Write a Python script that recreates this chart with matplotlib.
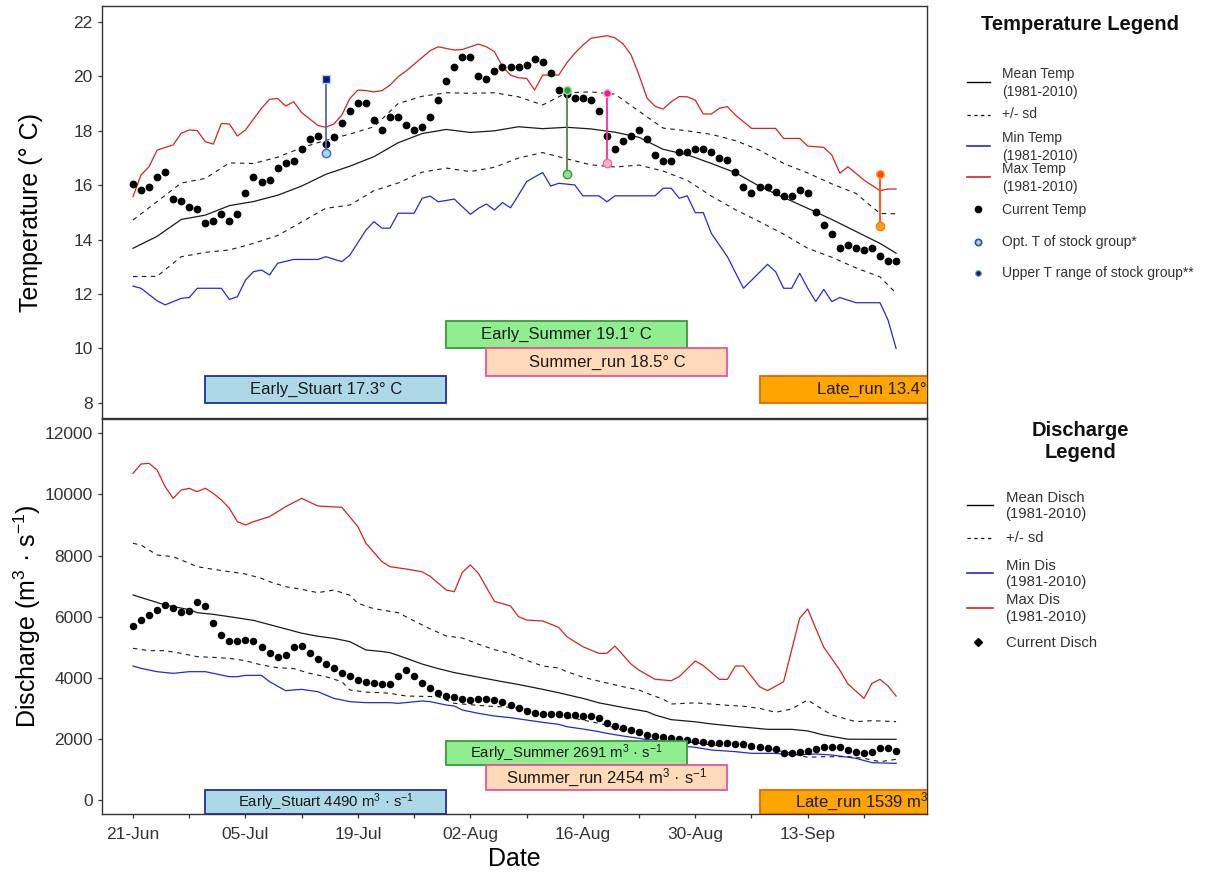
import numpy as np
import pandas as pd
import matplotlib
matplotlib.use("Agg")
import matplotlib.pyplot as plt
from matplotlib.lines import Line2D
from matplotlib.patches import Rectangle

plt.rcParams['font.family'] = ['Liberation Sans', 'DejaVu Sans']
plt.rcParams['mathtext.fontset'] = 'custom'
plt.rcParams['mathtext.rm'] = 'Liberation Sans'
plt.rcParams['mathtext.it'] = 'Liberation Sans:italic'

start = pd.Timestamp('2021-06-21')

# current year, one value per day from 21-Jun
cur_temp = [16.03, 15.82, 15.92, 16.31, 16.50, 15.50, 15.41, 15.21, 15.11, 14.62,
            14.70, 14.94, 14.70, 14.93, 15.73, 16.31, 16.11, 16.20, 16.63, 16.82,
            16.90, 17.32, 17.71, 17.81, 17.53, 17.78, 18.30, 18.72, 19.02, 19.02,
            18.40, 18.03, 18.51, 18.51, 18.21, 18.03, 18.13, 18.51, 19.12, 19.82,
            20.33, 20.72, 20.72, 20.03, 19.92, 20.21, 20.33, 20.33, 20.33, 20.43,
            20.63, 20.53, 20.11, 19.51, 19.35, 19.22, 19.21, 19.12, 18.72, 17.81,
            17.32, 17.63, 17.81, 18.03, 17.70, 17.12, 16.90, 16.90, 17.21, 17.21,
            17.32, 17.32, 17.21, 17.01, 16.92, 16.50, 15.93, 15.73, 15.93, 15.93,
            15.74, 15.61, 15.61, 15.84, 15.73, 15.01, 14.52, 14.21, 13.70, 13.81,
            13.70, 13.60, 13.70, 13.40, 13.20, 13.20]
cur_disch = [5706, 5902, 6055, 6219, 6382, 6295, 6153, 6186, 6470, 6350,
             5782, 5400, 5193, 5193, 5237, 5193, 4997, 4822, 4691, 4746,
             5019, 5040, 4822, 4626, 4440, 4331, 4167, 4059, 3928, 3851,
             3818, 3810, 3810, 4050, 4240, 4050, 3818, 3655, 3513, 3404,
             3355, 3317, 3273, 3295, 3295, 3273, 3219, 3109, 3000, 2913,
             2837, 2815, 2815, 2815, 2782, 2782, 2760, 2760, 2695, 2531,
             2422, 2346, 2291, 2236, 2140, 2095, 2051, 2018, 1986, 1964,
             1920, 1909, 1876, 1855, 1855, 1833, 1833, 1767, 1724, 1691,
             1658, 1549, 1549, 1571, 1615, 1658, 1724, 1746, 1724, 1637,
             1571, 1549, 1571, 1691, 1691, 1604]

# temperature climatology 1981-2010 (days after 21-Jun)
t_grid = list(range(0, 96, 3)) + [95]
t_mean = [13.68, 14.12, 14.74, 14.90, 15.25, 15.40, 15.63, 15.97, 16.40, 16.70, 17.05,
          17.56, 17.90, 18.05, 17.94, 18.00, 18.15, 18.08, 18.13, 18.07, 17.95, 17.76,
          17.32, 17.12, 16.80, 16.46, 15.96, 15.55, 15.15, 14.74, 14.30, 13.86, 13.50]
t_sd_hi = [14.72, 15.40, 16.08, 16.25, 16.82, 16.80, 17.03, 17.38, 17.65, 17.88, 18.15,
           19.00, 19.27, 19.40, 19.38, 19.40, 19.25, 18.95, 19.40, 19.43, 19.35, 18.72,
           18.10, 18.00, 17.87, 17.64, 17.29, 16.80, 16.45, 16.05, 15.70, 14.96, 14.95]
t_sd_lo = [12.64, 12.65, 13.37, 13.53, 13.62, 13.86, 14.15, 14.65, 15.15, 15.27, 15.80,
           16.08, 16.48, 16.63, 16.50, 16.66, 17.00, 17.20, 16.97, 16.75, 16.67, 16.74,
           16.52, 16.18, 15.60, 15.10, 14.66, 14.20, 13.68, 13.35, 12.96, 12.63, 12.03]
tmin_days = [0, 1, 3, 4, 6, 7, 8, 11, 12, 13, 14, 15, 16, 17, 18, 20, 23, 24, 26, 27,
             29, 30, 31, 32, 33, 35, 36, 37, 38, 40, 41, 42, 43, 44, 45, 46, 47, 48, 49, 51,
             52, 53, 55, 56, 58, 59, 60, 65, 66, 67, 68, 69, 70, 71, 72, 74, 76, 79, 80, 81,
             82, 83, 84, 85, 86, 87, 88, 90, 93, 94, 95]
tmin = [12.29, 12.21, 11.75, 11.60, 11.84, 11.87, 12.21, 12.21, 11.80, 11.90,
        12.51, 12.82, 12.88, 12.70, 13.13, 13.27, 13.27, 13.37, 13.19, 13.43,
        14.35, 14.66, 14.42, 14.42, 14.97, 14.97, 15.52, 15.60, 15.39, 15.49,
        15.21, 14.93, 15.15, 15.31, 15.09, 15.36, 15.17, 15.64, 16.13, 16.47,
        15.97, 16.07, 16.01, 15.61, 15.61, 15.39, 15.61, 15.61, 15.89, 15.89,
        15.52, 15.61, 14.99, 14.99, 14.23, 13.37, 12.21, 13.09, 12.82, 12.21,
        12.21, 12.76, 12.21, 11.72, 12.17, 11.72, 11.87, 11.68, 11.68, 11.04, 10.00]
tmax_days = [0, 1, 2, 3, 4, 5, 6, 7, 8, 9, 10, 11, 12, 13, 14, 16, 17, 18, 19, 20, 21,
             23, 24, 25, 26, 27, 28, 29, 30, 31, 32, 33, 34, 35, 36, 37, 38, 39, 40, 41,
             43, 44, 45, 46, 47, 48, 49, 50, 51, 53, 54, 55, 56, 57, 59, 60, 61, 62, 63, 64,
             65, 66, 67, 68, 69, 70, 71, 72, 73, 74, 75, 77, 80, 81, 83, 84, 86, 87, 88, 89,
             90, 91, 93, 94, 95]
tmax = [15.58, 16.38, 16.68, 17.29, 17.39, 17.48, 17.91, 18.03, 18.01, 17.60, 17.51,
        18.27, 18.25, 17.81, 18.03, 18.83, 19.16, 19.19, 18.91, 19.07, 18.67,
        18.20, 18.13, 18.25, 18.58, 19.19, 19.50, 19.48, 19.43, 19.48, 19.68,
        19.99, 20.20, 20.45, 20.70, 20.95, 21.09, 21.03, 20.97, 20.99,
        21.19, 21.09, 20.91, 20.36, 20.05, 19.95, 19.93, 19.50, 20.05,
        20.05, 20.50, 20.85, 21.15, 21.40, 21.50, 21.42, 21.20, 20.80, 20.05, 19.20,
        18.90, 18.80, 19.07, 19.26, 19.25, 19.13, 18.62, 18.62, 18.83, 18.89, 18.58,
        18.09, 18.09, 17.72, 17.72, 17.44, 17.39, 17.11, 16.44, 16.68,
        16.44, 16.19, 15.80, 15.86, 15.86]

# discharge climatology 1981-2010
q_mean_days = [0, 2, 4, 7, 8, 10, 12, 15, 17, 19, 21, 23, 25, 27, 29, 31, 32, 34, 36, 38,
               40, 43, 46, 48, 51, 53, 56, 58, 61, 64, 65, 67, 70, 72, 75, 79, 82, 84, 86, 89, 95]
q_mean = [6710, 6546, 6382, 6230, 6131, 6077, 6000, 5880, 5740, 5600,
          5460, 5360, 5290, 5182, 4910, 4860, 4822, 4640, 4450, 4300,
          4170, 4020, 3873, 3780, 3622, 3510, 3327, 3180, 3030, 2891,
          2782, 2630, 2560, 2490, 2410, 2313, 2313, 2260, 2127, 1990, 1986]
q_hi_days = [0, 1, 3, 5, 7, 8, 10, 12, 14, 16, 17, 19, 21, 23, 25, 27, 28, 30, 31, 33,
             35, 37, 39, 41, 43, 45, 47, 49, 51, 53, 54, 56, 58, 61, 63, 64, 66, 67, 70, 74,
             76, 78, 80, 82, 84, 85, 87, 90, 92, 95]
q_sd_hi = [8401, 8346, 8019, 7964, 7746, 7637, 7550, 7473, 7397, 7255,
           7146, 6982, 6895, 6786, 6873, 6700, 6437, 6260, 6219, 6131,
           5860, 5600, 5368, 5300, 5100, 4920, 4790, 4570, 4386, 4320,
           4200, 4020, 3890, 3709, 3600, 3491, 3300, 3142, 3180, 3100,
           3070, 3000, 2870, 2980, 3273, 3100, 2782, 2564, 2597, 2564]
q_lo_days = [0, 2, 4, 6, 8, 10, 12, 14, 16, 18, 20, 22, 24, 26, 27, 29, 31, 32, 34, 38,
             40, 44, 47, 49, 50, 53, 55, 57, 59, 60, 62, 64, 65, 67, 70, 72, 75, 77, 80, 82,
             84, 86, 89, 91, 93, 95]
q_sd_lo = [4964, 4888, 4888, 4801, 4691, 4669, 4636, 4560, 4419, 4331,
           4300, 4146, 4036, 3873, 3600, 3530, 3513, 3491, 3404, 3382,
           3164, 3077, 3033, 2967, 2837, 2727, 2673, 2564, 2455, 2346,
           2236, 2100, 2018, 1964, 1876, 1800, 1746, 1691, 1637, 1527,
           1397, 1418, 1418, 1364, 1255, 1331]
qmin_days = [0, 1, 3, 5, 7, 9, 10, 12, 13, 14, 16, 17, 19, 21, 23, 25, 27, 29, 32, 33,
             36, 37, 39, 40, 41, 43, 45, 47, 49, 51, 53, 54, 56, 58, 59, 61, 63, 64, 65, 67,
             70, 72, 75, 77, 80, 82, 85, 87, 90, 92, 95]
qmin = [4386, 4309, 4200, 4146, 4200, 4200, 4146, 4036, 4036, 4080,
        4080, 3873, 3579, 3622, 3546, 3327, 3219, 3186, 3186, 3164,
        3240, 3219, 3109, 3077, 2946, 2837, 2749, 2695, 2618, 2542,
        2476, 2400, 2324, 2236, 2182, 2095, 2018, 1975, 1964, 1800,
        1724, 1637, 1582, 1527, 1527, 1473, 1506, 1473, 1364, 1222, 1200]
qmax_days = [0, 1, 2, 3, 4, 5, 6, 7, 8, 9, 10, 11, 12, 13, 14, 15, 17, 19, 21, 23,
             26, 28, 29, 31, 32, 34, 36, 37, 39, 40, 41, 42, 43, 45, 47, 48, 49, 51, 53, 54,
             56, 58, 59, 60, 62, 63, 65, 67, 68, 70, 71, 73, 74, 75, 76, 78, 79, 81, 83, 84,
             85, 86, 88, 89, 91, 92, 93, 94, 95]
qmax = [10692, 10997, 11019, 10801, 10255, 9874, 10146, 10201, 10092, 10201,
        10037, 9819, 9546, 9110, 9001, 9110, 9274, 9601, 9874, 9623,
        9579, 8946, 8400, 7800, 7637, 7560, 7470, 7320, 6873, 6818,
        7450, 7692, 7419, 6500, 6350, 6000, 5891, 5860, 5650, 5346,
        5019, 4800, 4800, 5040, 4450, 4250, 3949, 3906, 4036, 4550,
        4400, 3949, 3949, 4386, 4386, 3709, 3579, 3873, 5950, 6251,
        5618, 5000, 4250, 3800, 3327, 3818, 3949, 3731, 3404]

# stock groups
stock_names = ['Early_Stuart', 'Early_Summer', 'Summer_run', 'Late_run']
stock_mid_day = [24, 54, 59, 93]
stock_temp = [17.3, 19.1, 18.5, 13.4]
stock_disch = [4490, 2691, 2454, 1539]
stock_opt_t = [17.2, 16.4, 16.8, 14.5]
stock_upper_t = [19.9, 19.5, 19.4, 16.4]

# styles
half_window = 15
box_level = [0, 2, 1, 0]
box_fill = ['#add8e6', '#90ee90', '#ffdab9', '#ffa500']
box_edge = ['#1f2fa0', '#3a9a3a', '#e8559a', '#e06a00']
q_text_size = [10.7, 10.7, 12, 12]
stk_line = ['#5866a8', '#4a8a4a', '#ff2a9a', '#ff4a10']
stk_top = ['#0a1a80', '#2e9a3e', '#ff1493', '#ff4500']
stk_bot = ['#aed6ee', '#8fe08f', '#ffb6c8', '#ffa020']
stk_edge = ['#3c64c8', '#3a9a3a', '#f06aa0', '#ff7a00']
RED, BLUE, GREY = '#d42424', '#2828d0', '#333333'

W, H = 1208, 880
fig = plt.figure(figsize=(W / 100, H / 100), dpi=100)
ax_t = fig.add_axes([102 / W, 1 - 418 / H, 825 / W, 412 / H])
ax_q = fig.add_axes([102 / W, 1 - 814 / H, 825 / W, 395 / H])

week_days = list(range(0, 92, 7))
week_labels = [(start + pd.Timedelta(days=d)).strftime('%d-%b') if d % 14 == 0 else ''
               for d in week_days]

for ax in (ax_t, ax_q):
    ax.set_xlim(-3.86, 98.85)
    for s in ax.spines.values():
        s.set_color(GREY)
        s.set_linewidth(1.0)
    ax.tick_params(direction='out', length=3.2, width=0.9, color=GREY,
                   labelsize=12.5, labelcolor=GREY)
    ax.tick_params(axis='y', pad=3.4)
    ax.tick_params(axis='x', pad=6.3)
    ax.set_xticks(week_days)

ax_t.set_xticklabels([])
ax_q.set_xticklabels(week_labels)

# temperature panel
days = np.arange(len(cur_temp))
ax_t.plot(tmax_days, tmax, color=RED, lw=0.9, zorder=2)
ax_t.plot(tmin_days, tmin, color=BLUE, lw=0.9, zorder=2)
ax_t.plot(t_grid, t_mean, color='#1a1a1a', lw=0.9, zorder=2)
ax_t.plot(t_grid, t_sd_hi, color='#1a1a1a', lw=0.8, dashes=(4, 4), zorder=2)
ax_t.plot(t_grid, t_sd_lo, color='#1a1a1a', lw=0.8, dashes=(4, 4), zorder=2)
ax_t.plot(days, cur_temp, 'o', color='black', ms=4.6, zorder=5)
ax_t.set_ylim(7.44, 22.59)
ax_t.set_yticks(range(8, 23, 2))
ax_t.set_ylabel('Temperature (° C)', fontsize=18)
ax_t.yaxis.set_label_coords(-0.071, 0.5)

# discharge panel
qdays = np.arange(len(cur_disch))
ax_q.plot(qmax_days, qmax, color=RED, lw=0.9, zorder=2)
ax_q.plot(qmin_days, qmin, color=BLUE, lw=0.9, zorder=2)
ax_q.plot(q_mean_days, q_mean, color='#1a1a1a', lw=0.9, zorder=2)
ax_q.plot(q_hi_days, q_sd_hi, color='#1a1a1a', lw=0.8, dashes=(4, 4), zorder=2)
ax_q.plot(q_lo_days, q_sd_lo, color='#1a1a1a', lw=0.8, dashes=(4, 4), zorder=2)
ax_q.plot(qdays, cur_disch, 'o', color='black', ms=4.4, zorder=3)
ax_q.set_ylim(-458, 12470)
ax_q.set_yticks(range(0, 12001, 2000))
ax_q.set_ylabel('Discharge (m$^{3}$ · s$^{-1}$)', fontsize=18)
ax_q.yaxis.set_label_coords(-0.071, 0.5)
ax_q.set_xlabel('Date', fontsize=18, labelpad=3.8)

# stock group boxes and temperature ranges
for i, name in enumerate(stock_names):
    x0 = stock_mid_day[i] - half_window
    lvl = box_level[i]
    ax_t.add_patch(Rectangle((x0, 8 + lvl), 2 * half_window, 1, fc=box_fill[i],
                             ec=box_edge[i], lw=1.3, zorder=4))
    ax_t.text(stock_mid_day[i], 8.5 + lvl, f'{name} {stock_temp[i]}° C', ha='center',
              va='center', fontsize=12, color='#1a1a1a', clip_on=True, zorder=5)
    q0 = -470 + 800 * lvl
    ax_q.add_patch(Rectangle((x0, q0), 2 * half_window, 800, fc=box_fill[i],
                             ec=box_edge[i], lw=1.3, zorder=4))
    ax_q.text(stock_mid_day[i], q0 + 400 if lvl else -64,
              f'{name} {stock_disch[i]} m$^{{3}}$ · s$^{{-1}}$', ha='center',
              va='center', fontsize=q_text_size[i], color='#1a1a1a', clip_on=True, zorder=5)

    d = stock_mid_day[i]
    ax_t.plot([d, d], [stock_opt_t[i], stock_upper_t[i]], color=stk_line[i], lw=1.3, zorder=6)
    ax_t.plot(d, stock_upper_t[i], 's' if i == 0 else 'o', ms=5.5, mfc=stk_top[i],
              mec=stk_bot[i], mew=1, zorder=7)
    ax_t.plot(d, stock_opt_t[i], 'o', ms=6, mfc=stk_bot[i], mec=stk_edge[i], mew=1, zorder=7)


# legends on the right
def legend_block(title_lines, entries, x_line, x_text, fs, ls):
    for txt, y in title_lines:
        fig.text(1080 / W, 1 - y / H, txt, ha='center', va='baseline', fontsize=14.5,
                 fontweight='bold', color='#111111')
    for label, y_txt, y_key, kind, style in entries:
        fy = 1 - y_key / H
        if kind == 'line':
            fig.add_artist(Line2D([x_line[0] / W, x_line[1] / W], [fy, fy],
                                  transform=fig.transFigure, **style))
        else:
            fig.add_artist(Line2D([(x_line[0] + 11) / W], [fy], ls='none',
                                  transform=fig.transFigure, **style))
        fig.text(x_text / W, 1 - y_txt / H, label, ha='left', va='center', fontsize=fs,
                 color=GREY, linespacing=ls)


legend_block(
    [('Temperature Legend', 30.5)],
    [('Mean Temp\n(1981-2010)', 83, 81.7, 'line', dict(color='black', lw=1.0)),
     ('+/- sd', 113.5, 115, 'line', dict(color='black', lw=0.9, dashes=(2.5, 3))),
     ('Min Temp\n(1981-2010)', 147, 145.7, 'line', dict(color=BLUE, lw=1.2)),
     ('Max Temp\n(1981-2010)', 178, 176.7, 'line', dict(color=RED, lw=1.2)),
     ('Current Temp', 210, 209.3, 'mark', dict(marker='o', ms=4.5, color='black')),
     ('Opt. T of stock group*', 241.8, 241.7, 'mark',
      dict(marker='o', ms=4.5, mfc='#aed6ee', mec='#2c4ca8', mew=1.2)),
     ('Upper T range of stock group**', 272.5, 273.3, 'mark',
      dict(marker='o', ms=4, mfc='#0a1a80', mec='#7090d0', mew=0.8))],
    (967, 990), 1002, 10, 1.3)

legend_block(
    [('Discharge', 436), ('Legend', 458.3)],
    [('Mean Disch\n(1981-2010)', 506.2, 505, 'line', dict(color='black', lw=1.0)),
     ('+/- sd', 538.1, 538.3, 'line', dict(color='black', lw=0.9, dashes=(2.5, 3))),
     ('Min Dis\n(1981-2010)', 573.7, 573.3, 'line', dict(color=BLUE, lw=1.2)),
     ('Max Dis\n(1981-2010)', 608.4, 607.7, 'line', dict(color=RED, lw=1.2)),
     ('Current Disch', 643, 642.3, 'mark', dict(marker='D', ms=4.5, color='black'))],
    (967, 993), 1005.5, 10.7, 1.2)

fig.savefig('out.png', dpi=100)
